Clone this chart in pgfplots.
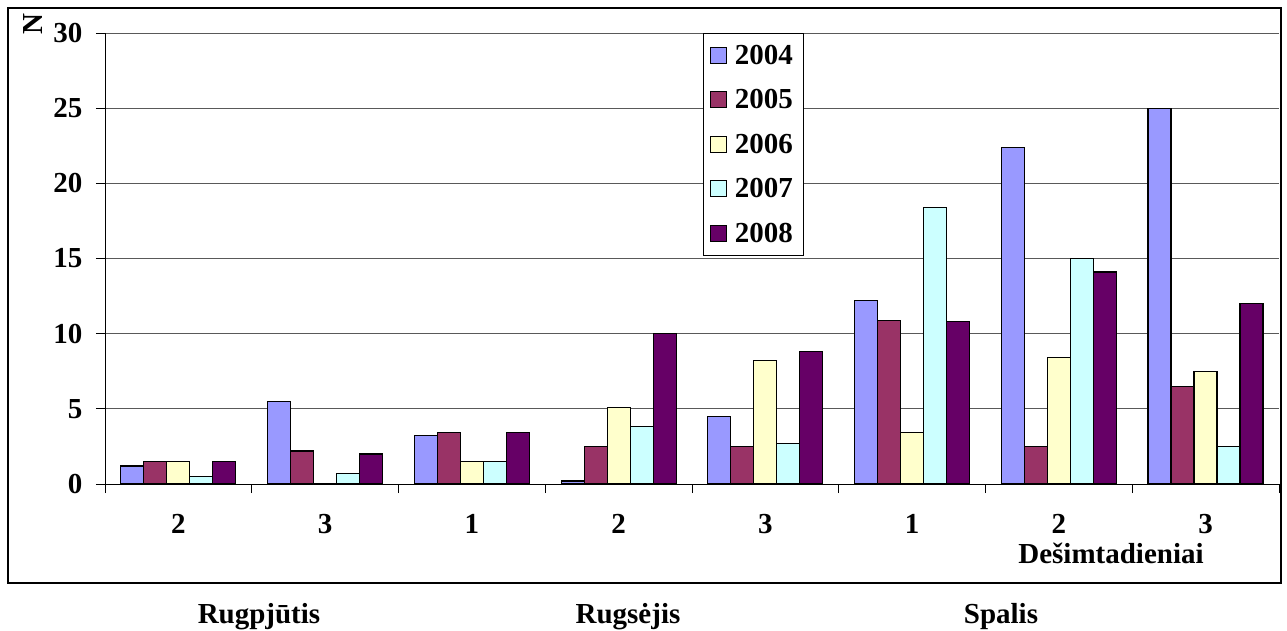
\documentclass[border=0pt]{standalone}
\usepackage{pgfplots}
\pgfplotsset{compat=1.18}
\usepackage{pgfplotstable}
\usepackage{fontspec}
\setmainfont{Liberation Serif}

\definecolor{c2004}{HTML}{9999FF}
\definecolor{c2005}{HTML}{993366}
\definecolor{c2006}{HTML}{FFFFCC}
\definecolor{c2007}{HTML}{CCFFFF}
\definecolor{c2008}{HTML}{660066}

\newcommand{\bigfont}{\fontsize{29}{34}\selectfont\bfseries}

% columns: decade index, then one column per year
\pgfplotstableread{
x y2004 y2005 y2006 y2007 y2008
0 1.2 1.5 1.5 0.5 1.5
1 5.5 2.2 0 0.7 2.0
2 3.2 3.4 1.5 1.5 3.4
3 0.2 2.5 5.1 3.8 10.0
4 4.5 2.5 8.2 2.7 8.8
5 12.2 10.9 3.4 18.4 10.8
6 22.4 2.5 8.4 15.0 14.1
7 25.0 6.5 7.5 2.5 12.0
}\datatable

\begin{document}
\begin{tikzpicture}
\useasboundingbox (0,0) rectangle (1287pt,630pt);
\begin{axis}[
    at={(105pt,146pt)}, anchor=south west,
    scale only axis, width=1174pt, height=451pt,
    xmin=-0.5, xmax=7.5, ymin=0, ymax=30,
    ybar=0pt, bar width=23pt,
    axis x line*=bottom, axis y line*=left,
    axis line style={line width=0.8pt},
    ytick={0,5,...,30},
    ymajorgrids, major grid style={black!65, line width=0.8pt},
    xtick={0,...,7}, xticklabels={2,3,1,2,3,1,2,3},
    major x tick style={draw=none},
    minor xtick={-0.5,0.5,...,7.5},
    tick align=outside, major tick length=9pt, minor tick length=9pt,
    tick style={black, line width=0.8pt},
    tick label style={font=\bigfont},
    /pgf/number format/assume math mode=true,
    xticklabel style={yshift=-18pt},
    yticklabel style={xshift=-10pt},
    legend style={at={(0.509,1)}, anchor=north west, draw=black, line width=0.8pt,
        font=\bigfont, row sep=17.7pt, column sep=5pt,
        inner xsep=7pt, inner ysep=8.4pt,
        nodes={inner sep=3pt}},
    legend cell align=left,
    legend image code/.code={\draw[#1, line width=1pt] (0pt,-8pt) rectangle (16pt,8pt);},
    every axis plot/.append style={draw=black, line width=1.2pt},
]
\addplot[fill=c2004] table[x=x, y=y2004] {\datatable};
\addplot[fill=c2005] table[x=x, y=y2005] {\datatable};
\addplot[fill=c2006] table[x=x, y=y2006] {\datatable};
\addplot[fill=c2007] table[x=x, y=y2007] {\datatable};
\addplot[fill=c2008] table[x=x, y=y2008] {\datatable};
\legend{2004,2005,2006,2007,2008}
\end{axis}
\draw[line width=2pt] (8pt,47pt) rectangle (1281pt,622pt);
\node[rotate=90, font=\bigfont] at (33pt,606pt) {N};
\node[font=\bigfont, anchor=base] at (1111pt,67pt) {Dešimtadieniai};
\node[font=\bigfont, anchor=base] at (259pt,7pt) {Rugpjūtis};
\node[font=\bigfont, anchor=base] at (628pt,7pt) {Rugsėjis};
\node[font=\bigfont, anchor=base] at (1001pt,7pt) {Spalis};
\end{tikzpicture}
\end{document}
